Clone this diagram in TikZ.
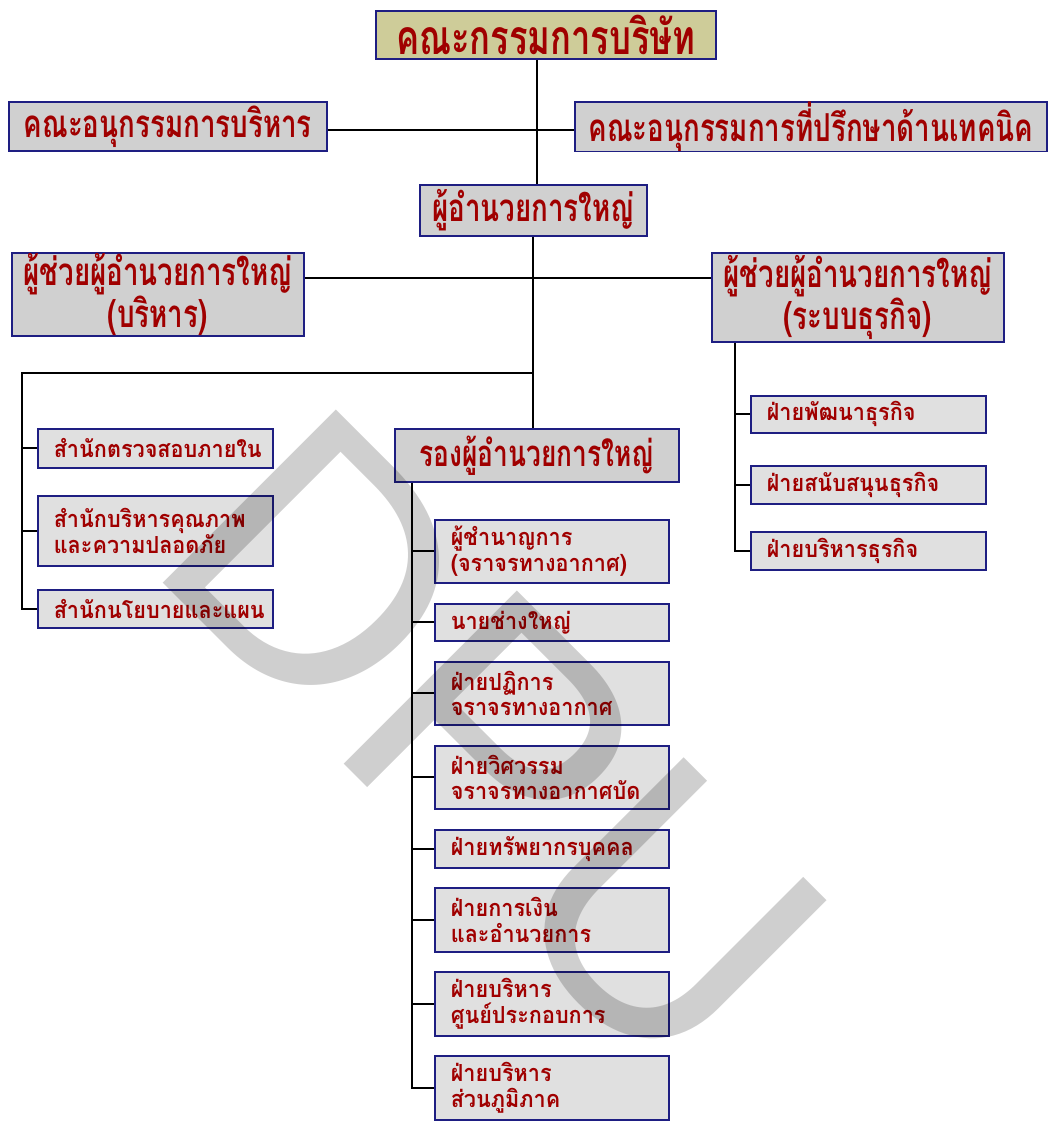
\documentclass[tikz,border=0pt]{standalone}
\usepackage{fontspec}
\newfontfamily\thaibig[Script=Thai,FakeStretch=0.72]{Loma}
\newfontfamily\thaismall[Script=Thai,FakeStretch=0.92]{Loma}
\newfontfamily\wmfont{Liberation Sans}
\definecolor{navy}{RGB}{30,30,130}
\definecolor{tred}{RGB}{160,0,0}
\definecolor{olivebox}{RGB}{206,204,153}
\definecolor{greyA}{RGB}{208,208,208}
\definecolor{greyB}{RGB}{224,224,224}
\begin{document}
\begin{tikzpicture}[x=1pt,y=-1pt,
  boxbase/.style={draw=navy,line width=1.6pt,text=tred,inner sep=0pt,anchor=north west},
  topbox/.style={boxbase,fill=olivebox,font=\thaibig\bfseries\fontsize{48}{50}\selectfont},
  bigbox/.style={boxbase,fill=greyA,align=center,font=\thaibig\bfseries\fontsize{38.5}{35}\selectfont},
  smallbox/.style={boxbase,fill=greyB,align=left,inner xsep=16pt,font=\thaismall\bfseries\fontsize{23.5}{25.5}\selectfont},
  conn/.style={line width=1.8pt,black},
  wm/.style={text=black,text opacity=0.19,font=\wmfont\fontsize{356}{356}\selectfont,inner sep=0pt}
]
\useasboundingbox[fill=white] (0,0) rectangle (1049,1124);
% top levels
\node[topbox,minimum width=340pt,minimum height=48pt] (n1) at (375,10) {คณะกรรมการบริษัท};
\node[bigbox,minimum width=318pt,minimum height=49pt] (n2) at (8,101) {คณะอนุกรรมการบริหาร};
\node[bigbox,minimum width=472pt,minimum height=49pt] (n3) at (574,101) {คณะอนุกรรมการที่ปรึกษาด้านเทคนิค};
\node[bigbox,minimum width=227pt,minimum height=51pt] (n4) at (419,184) {ผู้อำนวยการใหญ่};
\node[bigbox,minimum width=292pt,minimum height=83pt] (n5) at (11,252) {ผู้ช่วยผู้อำนวยการใหญ่\\(บริหาร)};
\node[bigbox,minimum width=292pt,minimum height=89pt] (n6) at (711,252) {ผู้ช่วยผู้อำนวยการใหญ่\\(ระบบธุรกิจ)};
\node[bigbox,minimum width=284pt,minimum height=53pt,font=\thaibig\bfseries\fontsize{36.5}{34}\selectfont] (n10) at (394,428) {รองผู้อำนวยการใหญ่};
% left offices
\node[smallbox,text width=203pt,minimum height=39pt] (n7) at (37,428) {สำนักตรวจสอบภายใน};
\node[smallbox,text width=203pt,minimum height=70pt] (n8) at (37,495) {สำนักบริหารคุณภาพ\\และความปลอดภัย};
\node[smallbox,text width=203pt,minimum height=38pt] (n9) at (37,589) {สำนักนโยบายและแผน};
% business
\node[smallbox,text width=203pt,minimum height=37pt] (n19) at (750,395) {ฝ่ายพัฒนาธุรกิจ};
\node[smallbox,text width=203pt,minimum height=38pt] (n20) at (750,465) {ฝ่ายสนับสนุนธุรกิจ};
\node[smallbox,text width=203pt,minimum height=38pt] (n21) at (750,531) {ฝ่ายบริหารธุรกิจ};
% deputy
\node[smallbox,text width=202pt,minimum height=63pt] (n11) at (434,519) {ผู้ชำนาญการ\\(จราจรทางอากาศ)};
\node[smallbox,text width=202pt,minimum height=37pt] (n12) at (434,603) {นายช่างใหญ่};
\node[smallbox,text width=202pt,minimum height=63pt] (n13) at (434,661) {ฝ่ายปฏิการ\\จราจรทางอากาศ};
\node[smallbox,text width=202pt,minimum height=63pt] (n14) at (434,745) {ฝ่ายวิศวรรม\\จราจรทางอากาศบัด};
\node[smallbox,text width=202pt,minimum height=38pt] (n15) at (434,829) {ฝ่ายทรัพยากรบุคคล};
\node[smallbox,text width=202pt,minimum height=64pt] (n16) at (434,887) {ฝ่ายการเงิน\\และอำนวยการ};
\node[smallbox,text width=202pt,minimum height=64pt] (n17) at (434,971) {ฝ่ายบริหาร\\ศูนย์ประกอบการ};
\node[smallbox,text width=202pt,minimum height=64pt] (n18) at (434,1055) {ฝ่ายบริหาร\\ส่วนภูมิภาค};
% helper coordinates
\coordinate (xa) at (537,0);
\coordinate (xb) at (533,0);
\coordinate (xl) at (22,0);
\coordinate (xr) at (735,0);
\coordinate (xd) at (412,0);
\coordinate (y2) at (0,130);
\coordinate (y5) at (0,278);
\coordinate (j1) at (533,373);
\coordinate (j2) at (22,373);
% connectors
\draw[conn] (n1.south -| xa) -- (n4.north -| xa);
\draw[conn] (n2.east |- y2) -- (n3.west |- y2);
\draw[conn] (n4.south -| xb) -- (n10.north -| xb);
\draw[conn] (n5.east |- y5) -- (n6.west |- y5);
\draw[conn] (j1) -- (j2) -- (xl |- n9.west) -- (n9.west);
\draw[conn] (xl |- n7.west) -- (n7.west);
\draw[conn] (xl |- n8.west) -- (n8.west);
\draw[conn] (n6.south -| xr) -- (xr |- n21.west) -- (n21.west);
\draw[conn] (xr |- n19.west) -- (n19.west);
\draw[conn] (xr |- n20.west) -- (n20.west);
\draw[conn] (n10.south -| xd) -- (xd |- n18.west) -- (n18.west);
\foreach \n in {n11,n12,n13,n14,n15,n16,n17} {\draw[conn] (xd |- \n.west) -- (\n.west);}
% watermark
\node[wm,rotate=-45,anchor=base west] (wmk) at (142,562) {DPU};
\end{tikzpicture}
\end{document}
